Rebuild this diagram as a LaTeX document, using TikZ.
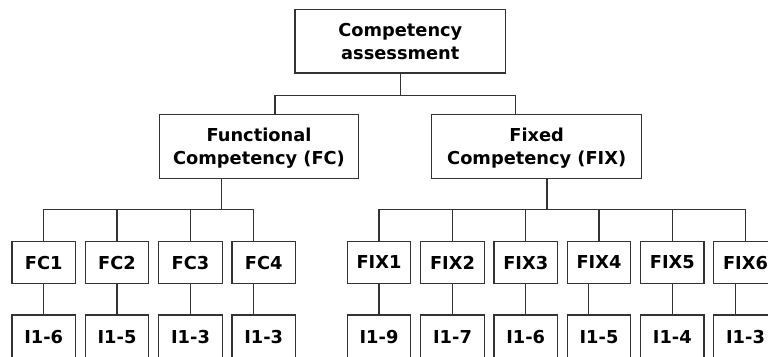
\documentclass[tikz,border=0pt]{standalone}
\usepackage{fontspec}
\setmainfont{DejaVu Sans}
\begin{document}
\begin{tikzpicture}[x=1pt,y=-1pt,
  box/.style={draw=black!80, line width=1.1pt, fill=white, align=center,
    font=\fontsize{17.8}{23.3}\selectfont\bfseries, inner sep=0pt, text depth=0pt},
  bigbox/.style={box, minimum height=63.3pt},
  leaf/.style={box, minimum width=63.4pt, minimum height=41.6pt},
  item/.style={box, minimum width=63.4pt, minimum height=44pt},
  link/.style={draw=black!80, line width=1.1pt}]
\useasboundingbox (0,0) rectangle (768,356);
\clip (0,0) rectangle (768,356);

% top levels
\node[bigbox, minimum width=210.7pt] (root) at (400.3,41.3) {Competency\\assessment};
\node[bigbox, minimum width=199.4pt] (fc)   at (259,146.5)  {Functional\\Competency (FC)};
\node[bigbox, minimum width=210pt]   (fix)  at (536.7,146.5) {Fixed\\Competency (FIX)};

% competency groups
\foreach \n/\x in {1/43.65,2/117,3/190.5,4/263.65}{
  \node[leaf] (fc\n) at (\x,262.5) {FC\n};
}
\foreach \n/\x in {1/379,2/452.5,3/525.7,4/599,5/672.3,6/745.5}{
  \node[leaf] (fix\n) at (\x,262.5) {FIX\n};
}

% indicator ranges
\node[item] (fcI1) at (43.65,337) {I1-6};
\node[item] (fcI2) at (117,337)   {I1-5};
\node[item] (fcI3) at (190.5,337) {I1-3};
\node[item] (fcI4) at (263.65,337) {I1-3};
\node[item] (fixI1) at (379,337)   {I1-9};
\node[item] (fixI2) at (452.5,337) {I1-7};
\node[item] (fixI3) at (525.7,337) {I1-6};
\node[item] (fixI4) at (599,337)   {I1-5};
\node[item] (fixI5) at (672.3,337) {I1-4};
\node[item] (fixI6) at (745.5,337) {I1-3};

% root to second level
\draw[link] (root.south) -- ++(0,22.3) coordinate (topbus);
\draw[link] ([xshift=16pt]fc.north) |- (topbus) -| ([xshift=-21pt]fix.north);

% functional branch
\draw[link] ([xshift=-37.3pt]fc.south) -- ++(0,31) coordinate (fcbus);
\draw[link] (fc1.north) |- (fcbus) -| ([xshift=-10.3pt]fc4.north);
\foreach \n in {2,3}{
  \draw[link] (fc\n.north) -- (fc\n.north |- fcbus);
}

% fixed branch
\draw[link] ([xshift=10.3pt]fix.south) -- ++(0,31) coordinate (fixbus);
\draw[link] (fix1.north) |- (fixbus) -| (fix6.north);
\foreach \n in {2,3,4,5}{
  \draw[link] (fix\n.north) -- (fix\n.north |- fixbus);
}

% groups to indicators
\foreach \n in {1,2,3}{
  \draw[link] (fc\n.south) -- (fcI\n.north);
}
\draw[link] ([xshift=-10.3pt]fc4.south) -- ([xshift=-10.3pt]fcI4.north);
\foreach \n in {1,2,3,5}{
  \draw[link] (fix\n.south) -- (fixI\n.north);
}
\draw[link] ([xshift=-10.3pt]fix4.south) -- ([xshift=-10.3pt]fixI4.north);
\draw[link] ([xshift=-9.8pt]fix6.south) -- ([xshift=-9.8pt]fixI6.north);
\end{tikzpicture}
\end{document}
